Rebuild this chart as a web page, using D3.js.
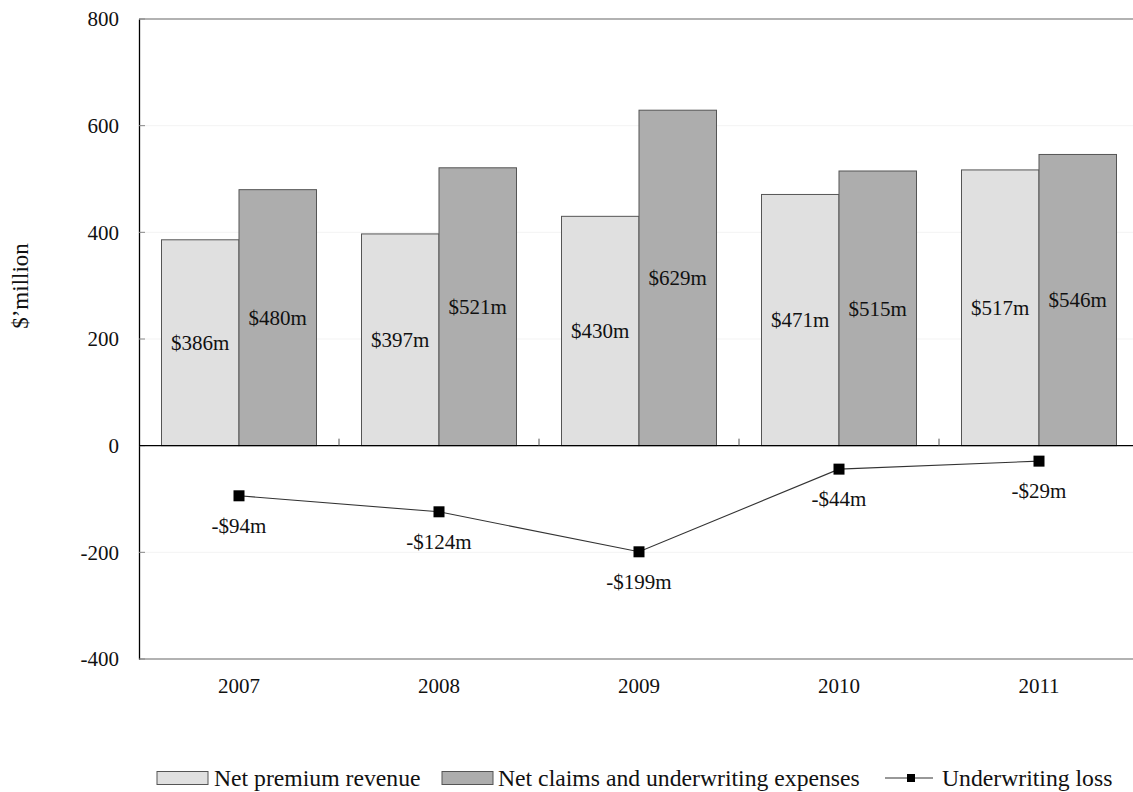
<!DOCTYPE html>
<html>
<head>
<meta charset="utf-8">
<script src="https://cdn.jsdelivr.net/npm/d3@7/dist/d3.min.js"></script>
<style>
  html, body { margin: 0; padding: 0; background: #fff; }
  svg, svg text { font-family: "Liberation Serif", "Times New Roman", serif; }
  svg { display: block; }
</style>
</head>
<body>
<svg id="chart" width="1133" height="792"></svg>
<script>
// Chart data
const years = ["2007", "2008", "2009", "2010", "2011"];
const premiumRevenue = [386, 397, 430, 471, 517];
const claimsExpenses = [480, 521, 629, 515, 546];
const underwritingLoss = [-94, -124, -199, -44, -29];
const yTicks = [-400, -200, 0, 200, 400, 600, 800];
const seriesNames = ["Net premium revenue", "Net claims and underwriting expenses", "Underwriting loss"];

const FONT = "'Liberation Serif', 'Times New Roman', serif";
const svg = d3.select("#chart");
const plotLeft = 139, plotRight = 1139, plotTop = 19, plotBottom = 659;

const y = d3.scaleLinear().domain([-400, 800]).range([plotBottom, plotTop]);
const x0 = d3.scaleBand().domain(years).range([plotLeft, plotRight])
  .paddingInner(0.225).paddingOuter(0.1125);
const x1 = d3.scaleBand().domain(["premium", "claims"]).range([0, x0.bandwidth()]);
const groupGap = (x0.step() - x0.bandwidth()) / 2;

const fills = { premium: "#e0e0e0", claims: "#adadad" };

// Faint horizontal gridlines
svg.append("g").selectAll("line")
  .data(yTicks.filter(t => t !== 0 && t !== 800 && t !== -400))
  .join("line")
  .attr("x1", plotLeft).attr("x2", plotRight)
  .attr("y1", d => y(d)).attr("y2", d => y(d))
  .attr("stroke", "#f3f3f3").attr("stroke-width", 1);

// Top and bottom frame lines
[800, -400].forEach(v => {
  svg.append("line").attr("x1", plotLeft).attr("x2", plotRight)
    .attr("y1", y(v)).attr("y2", y(v))
    .attr("stroke", "#666").attr("stroke-width", 1.2);
});

// Bars
const groups = svg.append("g").selectAll("g")
  .data(years.map((yr, i) => ({ yr, premium: premiumRevenue[i], claims: claimsExpenses[i] })))
  .join("g")
  .attr("transform", d => `translate(${x0(d.yr)},0)`);

groups.selectAll("rect")
  .data(d => ["premium", "claims"].map(k => ({ k, v: d[k] })))
  .join("rect")
  .attr("x", d => x1(d.k))
  .attr("width", x1.bandwidth())
  .attr("y", d => y(d.v))
  .attr("height", d => y(0) - y(d.v))
  .attr("fill", d => fills[d.k])
  .attr("stroke", "#555").attr("stroke-width", 1);

groups.selectAll("text")
  .data(d => ["premium", "claims"].map(k => ({ k, v: d[k] })))
  .join("text")
  .attr("x", d => x1(d.k) + x1.bandwidth() / 2)
  .attr("y", d => (y(d.v) + y(0)) / 2)
  .attr("dy", "0.35em")
  .attr("text-anchor", "middle")
  .attr("font-family", FONT)
  .attr("font-size", 21)
  .attr("fill", "#111")
  .text(d => `$${d.v}m`);

// Left axis
const yAxis = d3.axisLeft(y).tickValues(yTicks).tickSize(0).tickPadding(20)
  .tickFormat(d => String(d));
const ya = svg.append("g").attr("transform", `translate(${plotLeft},0)`).call(yAxis)
  .attr("font-family", FONT);
ya.select(".domain").attr("stroke", "#000").attr("stroke-width", 1.3);
ya.selectAll("text").attr("font-size", 21).attr("fill", "#111")
  .attr("font-family", FONT);
// Inward tick marks
svg.append("g").selectAll("line").data(yTicks).join("line")
  .attr("x1", plotLeft).attr("x2", plotLeft + 6)
  .attr("y1", d => y(d)).attr("y2", d => y(d))
  .attr("stroke", "#888").attr("stroke-width", 1);

// Zero line with category separators
svg.append("line").attr("x1", plotLeft).attr("x2", plotRight)
  .attr("y1", y(0)).attr("y2", y(0))
  .attr("stroke", "#000").attr("stroke-width", 1.3);
svg.append("g").selectAll("line")
  .data(years.slice(1))
  .join("line")
  .attr("x1", d => x0(d) - groupGap)
  .attr("x2", d => x0(d) - groupGap)
  .attr("y1", y(0)).attr("y2", y(0) - 7)
  .attr("stroke", "#555").attr("stroke-width", 1);

// Category labels
svg.append("g").selectAll("text").data(years).join("text")
  .attr("x", d => x0(d) + x0.bandwidth() / 2)
  .attr("y", y(-400) + 27)
  .attr("dy", "0.35em")
  .attr("text-anchor", "middle")
  .attr("font-family", FONT)
  .attr("font-size", 21)
  .attr("fill", "#111")
  .text(d => d);

// Underwriting loss line
const lossPts = years.map((yr, i) => ({ yr, v: underwritingLoss[i] }));
const cx = d => x0(d.yr) + x0.bandwidth() / 2;
svg.append("path")
  .datum(lossPts)
  .attr("d", d3.line().x(cx).y(d => y(d.v)))
  .attr("fill", "none").attr("stroke", "#333").attr("stroke-width", 1.1);
svg.append("g").selectAll("rect").data(lossPts).join("rect")
  .attr("x", d => cx(d) - 5.5).attr("y", d => y(d.v) - 5.5)
  .attr("width", 11).attr("height", 11)
  .attr("fill", "#000");
svg.append("g").selectAll("text").data(lossPts).join("text")
  .attr("x", cx)
  .attr("y", d => y(d.v) + 30)
  .attr("dy", "0.35em")
  .attr("text-anchor", "middle")
  .attr("font-family", FONT)
  .attr("font-size", 21)
  .attr("fill", "#111")
  .text(d => `-$${Math.abs(d.v)}m`);

// Y axis title
svg.append("text")
  .attr("transform", "translate(28,286) rotate(-90)")
  .attr("text-anchor", "middle")
  .attr("font-family", FONT)
  .attr("font-size", 23)
  .attr("fill", "#111")
  .text("$\u2019million");

// Legend
const lg = svg.append("g").attr("font-family", FONT);
const legY = 778;
lg.append("rect").attr("x", 157).attr("y", legY - 6.5).attr("width", 51).attr("height", 13)
  .attr("fill", fills.premium).attr("stroke", "#555");
lg.append("text").attr("x", 214).attr("y", legY).attr("dy", "0.35em")
  .attr("font-size", 23.7).attr("fill", "#111").text(seriesNames[0]);
lg.append("rect").attr("x", 442).attr("y", legY - 6.5).attr("width", 51).attr("height", 13)
  .attr("fill", fills.claims).attr("stroke", "#555");
lg.append("text").attr("x", 498).attr("y", legY).attr("dy", "0.35em")
  .attr("font-size", 23.7).attr("fill", "#111").text(seriesNames[1]);
lg.append("line").attr("x1", 885).attr("x2", 933).attr("y1", legY).attr("y2", legY)
  .attr("stroke", "#333").attr("stroke-width", 1.1);
lg.append("rect").attr("x", 907).attr("y", legY - 4).attr("width", 8).attr("height", 8)
  .attr("fill", "#000");
lg.append("text").attr("x", 942).attr("y", legY).attr("dy", "0.35em")
  .attr("font-size", 23.7).attr("fill", "#111").text(seriesNames[2]);
</script>
</body>
</html>
